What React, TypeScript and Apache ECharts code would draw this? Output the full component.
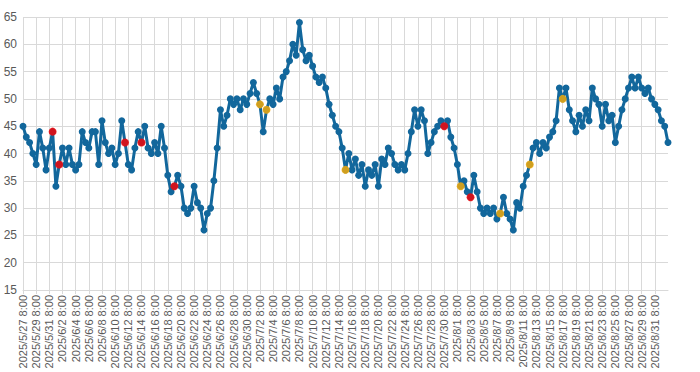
import React, { useEffect, useRef } from "react";
import * as echarts from "echarts";

// Readings every 12 hours (8:00 and 20:00), starting 2025/5/27 8:00
const startDate = [2025, 5, 27];
const stepHours = 12;

const values: number[] = [
  45, 43, 42, 40, 38, 44, 41, 37, 41, 44,
  34, 38, 41, 38, 41, 38, 37, 38, 44, 42,
  41, 44, 44, 38, 46, 42, 40, 41, 38, 40,
  46, 42, 38, 37, 41, 44, 42, 45, 41, 40,
  42, 40, 45, 41, 36, 33, 34, 36, 34, 30,
  29, 30, 34, 31, 30, 26, 29, 30, 35, 41,
  48, 45, 47, 50, 49, 50, 48, 50, 49, 51,
  53, 51, 49, 44, 48, 50, 49, 52, 50, 54,
  55, 57, 60, 58, 64, 59, 57, 58, 56, 54,
  53, 54, 52, 49, 47, 45, 44, 41, 37, 40,
  37, 39, 36, 38, 34, 37, 36, 38, 34, 39,
  38, 41, 40, 38, 37, 38, 37, 40, 44, 48,
  45, 48, 46, 40, 42, 44, 45, 46, 45, 46,
  43, 41, 38, 34, 35, 33, 32, 36, 33, 30,
  29, 30, 29, 30, 28, 29, 32, 29, 28, 26,
  31, 30, 34, 36, 38, 41, 42, 40, 42, 41,
  43, 44, 46, 52, 50, 52, 48, 46, 44, 47,
  45, 48, 46, 52, 50, 49, 45, 49, 46, 47,
  42, 45, 48, 50, 52, 54, 52, 54, 52, 51,
  52, 50, 49, 48, 46, 45, 42,
];

// Highlighted readings (category index, value)
const redIndex = [9, 11, 31, 36, 46, 128, 136];
const redValues = [44, 38, 42, 42, 34, 45, 32];
const orangeIndex = [72, 74, 98, 133, 145, 154, 164];
const orangeValues = [49, 48, 37, 34, 29, 38, 50];

const yTicks = { min: 15, max: 65, interval: 5 };
const labelEvery = 4; // one label every 2 days
const lastLabelIndex = 192; // 2025/8/31 8:00

function buildCategories(n: number): string[] {
  const out: string[] = [];
  const base = new Date(startDate[0], startDate[1] - 1, startDate[2], 8, 0, 0);
  for (let i = 0; i < n; i++) {
    const d = new Date(base.getTime() + i * stepHours * 3600 * 1000);
    out.push(`${d.getFullYear()}/${d.getMonth() + 1}/${d.getDate()} ${d.getHours()}:00`);
  }
  return out;
}

export default function App() {
  const ref = useRef<HTMLDivElement>(null);
  useEffect(() => {
    if (!ref.current) return;
    const chart = echarts.init(ref.current, undefined, { renderer: "svg" });
    const categories = buildCategories(values.length);
    const font = "'Liberation Sans', Arial, sans-serif";
    const showIdx = (i: number) => i % labelEvery === 0 && i <= lastLabelIndex;
    chart.setOption({
      animation: false,
      backgroundColor: "#ffffff",
      grid: { left: 23, right: 32, top: 17, bottom: 82, containLabel: false },
      xAxis: {
        type: "category",
        data: categories,
        boundaryGap: false,
        axisLine: { show: true, lineStyle: { color: "#d9d9d9", width: 1 } },
        axisTick: { show: true, interval: showIdx, length: 4, lineStyle: { color: "#d9d9d9" } },
        axisLabel: {
          interval: showIdx,
          rotate: 90,
          fontSize: 11,
          fontFamily: font,
          color: "#595959",
          margin: 5,
        },
        splitLine: { show: true, interval: showIdx, lineStyle: { color: "#d9d9d9", width: 1 } },
      },
      yAxis: {
        type: "value",
        min: yTicks.min,
        max: yTicks.max,
        interval: yTicks.interval,
        axisLine: { show: false },
        axisTick: { show: false },
        axisLabel: { fontSize: 12, fontFamily: font, color: "#595959", margin: 6 },
        splitLine: { show: true, lineStyle: { color: "#d9d9d9", width: 1 } },
      },
      series: [
        {
          type: "line",
          data: values,
          symbol: "circle",
          symbolSize: 7,
          showAllSymbol: true,
          lineStyle: { color: "#12679c", width: 3 },
          itemStyle: { color: "#12679c", borderWidth: 0 },
          z: 2,
        },
        {
          type: "scatter",
          data: redIndex.map((idx, k) => [categories[idx], redValues[k]]),
          symbol: "circle",
          symbolSize: 8,
          itemStyle: { color: "#ff0000" },
          z: 3,
        },
        {
          type: "scatter",
          data: orangeIndex.map((idx, k) => [categories[idx], orangeValues[k]]),
          symbol: "circle",
          symbolSize: 8,
          itemStyle: { color: "#ffae00" },
          z: 3,
        },
      ],
    });
    return () => chart.dispose();
  }, []);
  return (
    <div
      ref={ref}
      style={{ position: "fixed", left: 0, top: 0, width: 700, height: 372, background: "#fff" }}
    />
  );
}
